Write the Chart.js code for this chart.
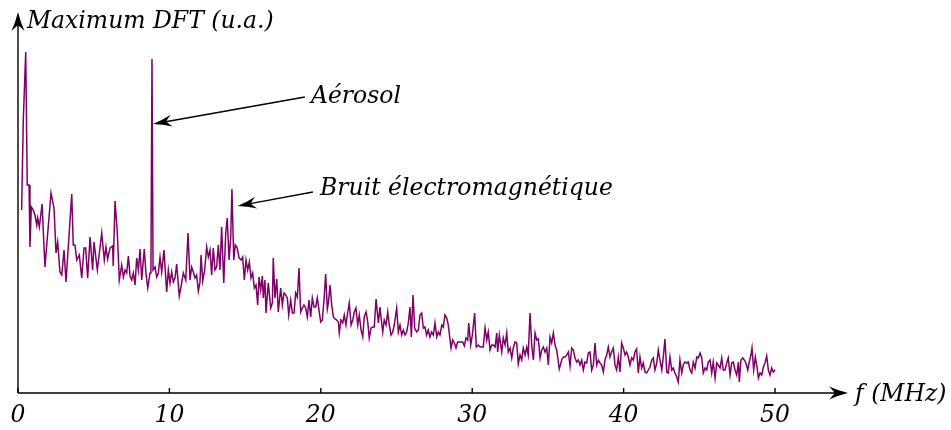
<!DOCTYPE html>
<html>
<head>
<meta charset="utf-8">
<script src="https://cdn.jsdelivr.net/npm/chart.js@4"></script>
<style>
  html, body { margin: 0; padding: 0; background: #fff; }
  #spectre { display: block; }
</style>
</head>
<body>
<canvas id="spectre" width="951" height="430"></canvas>
<script>
// frequences (MHz) et maximum de la DFT (u.a.)
const freqMHz = [
  0.24,0.35,0.51,0.61,0.73,0.79,0.88,1.01,1.12,1.24,1.30,1.41,1.59,1.78,2.18,2.38,2.51,2.62,2.77,2.89,
  3.04,3.17,3.55,3.65,3.76,3.88,4.05,4.21,4.36,4.47,4.60,4.76,4.93,5.02,5.24,5.53,5.70,5.81,5.92,6.08,
  6.25,6.29,6.41,6.56,6.69,6.85,6.96,7.07,7.18,7.29,
  7.40,7.51,7.62,7.73,7.84,7.95,8.06,8.17,8.34,8.45,8.57,8.72,8.78,8.85,8.92,9.05,9.16,9.27,9.38,9.49,
  9.64,9.82,9.93,10.04,10.15,10.26,10.37,10.48,10.65,10.81,10.92,11.08,11.23,11.36,11.47,11.58,11.69,11.80,11.91,12.02,
  12.09,12.20,12.33,12.46,12.57,12.68,12.79,12.90,13.01,13.12,13.23,13.34,13.45,13.59,13.72,13.82,13.94,14.05,14.13,14.25,
  14.35,14.48,14.60,14.73,14.84,14.95,15.06,15.17,15.28,15.39,15.50,15.61,15.72,15.83,
  15.92,16.03,16.14,16.20,16.31,16.38,16.53,16.69,16.80,16.86,16.97,17.09,17.19,17.35,17.46,17.57,17.68,17.79,17.88,18.01,
  18.12,18.23,18.34,18.45,18.56,18.67,18.78,18.89,19.00,19.11,19.22,19.33,19.44,19.55,19.66,19.77,19.88,19.99,20.10,20.21,
  20.32,20.43,20.50,20.61,20.72,20.83,20.94,21.05,21.16,21.22,21.33,21.45,21.55,21.66,21.78,21.88,22.00,22.11,22.21,22.32,
  22.44,22.54,22.66,22.77,22.87,22.99,23.10,23.20,23.32,23.43,23.53,23.65,23.80,23.91,
  23.98,24.09,24.19,24.31,24.42,24.52,24.64,24.75,24.85,25.01,25.12,25.23,25.34,25.45,25.56,25.67,25.78,25.89,25.98,26.09,
  26.20,26.33,26.44,26.55,26.66,26.77,26.88,26.99,27.10,27.21,27.32,27.43,27.54,27.66,27.76,27.87,27.99,28.09,28.20,28.32,
  28.42,28.60,28.71,28.82,28.93,29.04,29.15,29.26,29.37,29.48,29.59,29.70,29.77,29.90,30.01,30.16,30.27,30.40,30.52,30.63,
  30.73,30.85,30.96,31.06,31.18,31.29,31.39,31.51,31.62,31.68,31.79,
  31.95,32.05,32.17,32.28,32.38,32.50,32.61,32.71,32.83,32.94,33.04,33.16,33.27,33.37,33.49,33.60,33.70,33.82,33.93,34.04,
  34.15,34.26,34.37,34.48,34.59,34.70,34.81,34.92,35.03,35.14,35.25,35.36,35.47,35.58,35.75,35.91,36.02,36.13,36.24,36.35,
  36.46,36.57,36.68,36.79,36.90,37.01,37.12,37.23,37.34,37.45,37.56,37.67,37.78,37.89,38.00,38.11,38.22,38.33,38.44,38.55,
  38.66,38.77,38.88,38.99,39.10,39.21,39.32,39.43,39.54,39.65,39.76,39.87,39.98,40.09,40.20,40.31,40.42,
  40.53,40.64,40.75,40.86,40.97,41.08,41.19,41.30,41.41,41.52,41.63,41.74,41.86,41.96,42.07,42.19,42.29,42.40,42.52,42.62,
  42.73,42.85,42.95,43.06,43.18,43.28,43.39,43.51,43.61,43.72,43.84,43.94,44.05,44.17,44.27,44.39,44.50,44.60,44.72,44.83,
  44.93,45.05,45.16,45.26,45.38,45.49,45.59,45.71,45.82,45.92,46.04,46.15,46.25,46.37,46.48,46.58,46.70,46.81,46.91,47.03,
  47.14,47.24,47.36,47.47,47.58,47.64,47.75,47.87,47.97,48.08,48.20,48.30,48.41,48.48,48.59,48.70,48.81,48.90,49.01,49.12,
  49.23,49.34,49.45,49.56,49.67,49.78,49.89,50.00
];

const dftMax = [
  1.83,2.73,3.41,2.08,2.08,1.46,1.86,1.83,1.78,1.68,1.75,1.66,1.89,1.26,2.00,1.85,1.40,1.51,1.21,1.18,
  1.43,1.11,1.99,1.48,1.48,1.33,1.38,1.15,1.45,1.45,1.15,1.56,1.23,1.51,1.23,1.60,1.33,1.46,1.34,1.45,
  1.47,1.27,1.92,1.60,1.13,1.28,1.16,1.23,1.20,1.37,
  1.17,1.13,1.20,1.08,1.35,1.23,1.44,1.13,1.44,1.20,1.05,1.20,1.23,3.34,1.23,1.26,1.16,1.20,1.36,1.21,
  1.43,1.01,1.23,1.10,1.21,1.11,1.15,1.29,0.97,1.10,1.20,1.13,1.60,1.13,1.26,1.21,1.15,1.18,1.02,1.11,
  1.38,1.12,1.23,1.46,1.36,1.43,1.18,1.45,1.23,1.26,1.48,1.23,1.66,1.10,1.60,1.75,1.33,1.56,2.04,1.33,
  1.48,1.45,1.35,1.33,1.36,1.13,1.33,1.23,1.31,1.15,1.20,1.05,1.08,0.88,
  1.16,1.03,1.17,0.95,1.13,0.80,1.10,0.85,0.90,1.35,0.95,1.14,0.81,1.05,0.88,1.00,0.98,0.95,0.78,0.93,
  0.80,0.80,1.00,0.96,1.25,0.81,0.85,0.88,0.85,0.76,0.93,0.76,0.95,0.86,0.86,0.95,0.83,0.71,0.73,0.93,
  1.19,0.84,0.90,1.08,0.88,0.76,0.74,0.73,0.71,0.60,0.73,0.70,0.78,0.68,0.81,0.90,0.68,0.73,0.81,0.85,
  0.68,0.78,0.63,0.56,0.76,0.81,0.71,0.55,0.65,0.66,0.66,0.94,0.70,0.86,
  0.75,0.61,0.73,0.68,0.81,0.68,0.58,0.61,0.68,0.85,0.61,0.68,0.58,0.63,0.58,0.61,0.70,0.86,0.56,0.98,
  0.65,0.61,0.63,0.78,0.80,0.65,0.66,0.58,0.63,0.56,0.61,0.58,0.70,0.56,0.61,0.58,0.68,0.66,0.78,0.75,
  0.68,0.45,0.53,0.50,0.45,0.51,0.51,0.51,0.51,0.47,0.55,0.53,0.70,0.48,0.58,0.80,0.46,0.48,0.46,0.46,
  0.46,0.65,0.53,0.61,0.43,0.48,0.48,0.46,0.60,0.41,0.58,
  0.41,0.55,0.48,0.60,0.41,0.45,0.35,0.45,0.51,0.50,0.29,0.38,0.33,0.45,0.38,0.46,0.38,0.80,0.48,0.33,
  0.60,0.53,0.54,0.35,0.43,0.46,0.41,0.45,0.28,0.56,0.50,0.60,0.48,0.43,0.24,0.33,0.36,0.36,0.38,0.41,
  0.27,0.45,0.43,0.35,0.31,0.33,0.28,0.33,0.23,0.31,0.30,0.40,0.41,0.23,0.28,0.50,0.28,0.33,0.30,0.28,
  0.21,0.33,0.38,0.46,0.36,0.41,0.45,0.28,0.23,0.36,0.21,0.50,0.45,0.38,0.41,0.36,0.28,
  0.35,0.33,0.41,0.44,0.20,0.36,0.25,0.30,0.21,0.20,0.23,0.26,0.33,0.35,0.23,0.30,0.43,0.33,0.23,0.36,
  0.54,0.21,0.20,0.36,0.23,0.25,0.20,0.16,0.11,0.33,0.20,0.28,0.31,0.30,0.31,0.23,0.20,0.31,0.25,0.36,
  0.35,0.40,0.35,0.20,0.25,0.23,0.31,0.33,0.20,0.31,0.15,0.30,0.28,0.25,0.35,0.23,0.23,0.30,0.35,0.18,
  0.30,0.31,0.23,0.18,0.31,0.11,0.33,0.35,0.33,0.30,0.23,0.31,0.38,0.45,0.23,0.36,0.26,0.15,0.20,0.18,
  0.26,0.30,0.37,0.23,0.18,0.25,0.21,0.23
];

const xTicks = [0, 10, 20, 30, 40, 50];
const yTitle = 'Maximum DFT (u.a.)';
const xTitle = 'f (MHz)';

// etiquettes : texte (x, y) et pointe de fleche (tipX, tipY), en unites des axes
const notes = [
  { text: 'Aérosol', x: 19.35, y: 2.98, fromX: 18.95, fromY: 2.96, tipX: 8.92, tipY: 2.69 },
  { text: 'Bruit électromagnétique', x: 19.95, y: 2.06, fromX: 19.48, fromY: 2.01, tipX: 14.50, tipY: 1.87 }
];

const FONT = 'italic 23.5px "DejaVu Serif", serif';
const INK = '#000';
const TXT_DY = 2; // petit decalage vertical du texte

function arrowHead(ctx, x0, y0, x1, y1, len, half) {
  const dx = x1 - x0, dy = y1 - y0;
  const d = Math.hypot(dx, dy) || 1;
  const ux = dx / d, uy = dy / d;
  const nx = -uy, ny = ux;
  const bx = x1 - ux * len, by = y1 - uy * len;
  const mx = x1 - ux * len * 0.72, my = y1 - uy * len * 0.72;
  ctx.beginPath();
  ctx.moveTo(x1, y1);
  ctx.quadraticCurveTo(x1 - ux * len * 0.5 + nx * half * 0.35, y1 - uy * len * 0.5 + ny * half * 0.35, bx + nx * half, by + ny * half);
  ctx.quadraticCurveTo(mx + nx * half * 0.2, my + ny * half * 0.2, mx, my);
  ctx.quadraticCurveTo(mx - nx * half * 0.2, my - ny * half * 0.2, bx - nx * half, by - ny * half);
  ctx.quadraticCurveTo(x1 - ux * len * 0.5 - nx * half * 0.35, y1 - uy * len * 0.5 - ny * half * 0.35, x1, y1);
  ctx.closePath();
  ctx.fill();
}

function arrow(ctx, x0, y0, x1, y1, len, half) {
  const d = Math.hypot(x1 - x0, y1 - y0);
  const ux = (x1 - x0) / d, uy = (y1 - y0) / d;
  ctx.beginPath();
  ctx.moveTo(x0, y0);
  ctx.lineTo(x1 - ux * len * 0.6, y1 - uy * len * 0.6);
  ctx.stroke();
  arrowHead(ctx, x0, y0, x1, y1, len, half);
}

const decor = {
  id: 'decor',
  afterDraw(chart) {
    const { ctx, chartArea: a, scales: { x, y } } = chart;
    const x0 = x.getPixelForValue(0);
    const y0 = y.getPixelForValue(0);
    ctx.save();
    ctx.strokeStyle = INK;
    ctx.fillStyle = INK;
    ctx.lineWidth = 1.4;

    // axes avec fleches
    arrow(ctx, x0, y0, x0, a.top, 19, 6.5);
    arrow(ctx, x0, y0, a.right, y0, 19, 6.5);

    // graduations vers l'interieur et valeurs
    ctx.font = FONT;
    ctx.textAlign = 'center';
    ctx.textBaseline = 'middle';
    xTicks.forEach((v) => {
      const px = x.getPixelForValue(v);
      ctx.beginPath();
      ctx.moveTo(px, y0);
      ctx.lineTo(px, y0 - 5);
      ctx.stroke();
      ctx.fillText(String(v), px, y0 + 21 + TXT_DY);
    });

    // titres des axes
    ctx.textAlign = 'left';
    ctx.fillText(yTitle, x0 + 9, a.top + 8 + TXT_DY);
    ctx.fillText(xTitle, a.right + 7, y0 + TXT_DY);

    // annotations
    notes.forEach((n) => {
      ctx.fillText(n.text, x.getPixelForValue(n.x), y.getPixelForValue(n.y) + TXT_DY);
      arrow(ctx,
        x.getPixelForValue(n.fromX), y.getPixelForValue(n.fromY),
        x.getPixelForValue(n.tipX), y.getPixelForValue(n.tipY), 19, 6);
    });
    ctx.restore();
  }
};

new Chart(document.getElementById('spectre'), {
  type: 'line',
  data: {
    datasets: [{
      data: freqMHz.map((f, i) => ({ x: f, y: dftMax[i] })),
      borderColor: '#7f0066',
      borderWidth: 1.5,
      pointRadius: 0,
      tension: 0,
      fill: false
    }]
  },
  options: {
    responsive: false,
    animation: false,
    devicePixelRatio: 1,
    layout: { padding: { left: 18, right: 103, top: 12, bottom: 37 } },
    plugins: { legend: { display: false }, tooltip: { enabled: false } },
    scales: {
      x: { type: 'linear', min: 0, max: 54.82, display: false },
      y: { type: 'linear', min: 0, max: 3.81, display: false }
    }
  },
  plugins: [decor]
});
</script>
</body>
</html>
